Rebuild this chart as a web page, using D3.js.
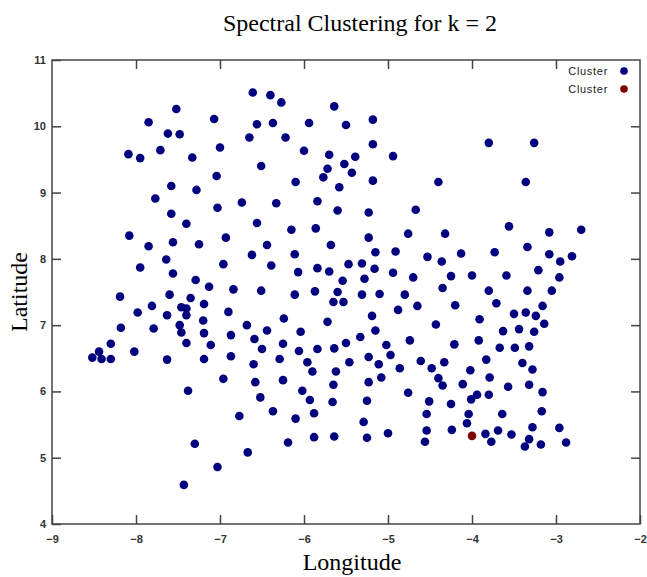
<!DOCTYPE html>
<html>
<head>
<meta charset="utf-8">
<script src="https://d3js.org/d3.v7.min.js"></script>
<style>
  body { margin: 0; background: #fff; }
  svg { display: block; }
</style>
</head>
<body>
<svg id="chart"></svg>
<script>
// cluster 1 (blue) - longitude / latitude pairs
const blueLon = [
  -6.61,-7.52,-7.85,-7.07,-6.56,-7.62,-7.48,-6.65,-8.09,-7.95,-7.71,-7.00,-7.33,-6.51,-7.04,-7.58,-7.28,-7.77,-6.74,-7.03,-7.58,
  -6.40,-6.27,-5.64,-6.37,-5.94,-5.50,-5.18,-6.22,-6.00,-5.70,-5.39,-5.18,-4.94,-5.72,-5.52,-5.43,-5.77,-6.10,-5.58,-5.18,-4.40,-6.33,-5.84,-5.60,-5.23,-4.67,
  -3.80,-3.26,-3.36,
  -7.40,-8.08,-7.85,-7.56,-7.25,-6.93,-6.62,-7.64,-7.95,-7.56,-6.96,-7.29,-7.13,-6.84,-8.19,-7.60,-7.35,-7.81,-7.46,-7.40,
  -7.19,-7.98,-7.63,-7.40,-6.90,-7.20,-7.48,-8.18,-7.79,-7.46,-7.19,-6.87,-8.30,-7.40,-7.11,-8.02,-8.44,-8.52,-8.41,-8.30,-7.63,-7.19,-6.87,
  -6.56,-6.15,-5.86,-5.23,-4.76,-6.44,-5.68,-6.11,-5.15,-4.91,-4.53,-6.39,-6.07,-5.84,-5.70,-5.47,-5.31,-5.16,-4.94,-4.70,-5.28,-5.54,
  -6.51,-6.11,-5.87,-5.60,-5.31,-5.10,-4.80,-5.65,-5.53,-4.65,-4.88,-5.19,-6.24,-5.72,-6.68,-4.43,-6.44,-6.04,-5.15,-6.59,-6.25,-5.50,
  -5.33,-5.02,-4.74,-6.50,-6.06,-5.84,-5.64,-4.97,-6.60,-6.29,-5.96,-5.46,-5.23,-5.11,-4.86,-4.61,-4.48,-5.90,-5.62,
  -4.32,-3.56,-3.08,-2.70,-4.13,-3.73,-3.34,-3.08,-2.81,-2.95,-4.36,-4.25,-4.00,-3.59,-3.21,-2.96,-4.35,-3.80,-3.34,-3.05,-4.20,
  -3.71,-3.16,-3.50,-3.36,-3.24,-3.91,-3.14,-3.63,-3.44,-3.26,-4.21,-3.92,-3.67,-3.49,-3.32,-4.33,-3.83,-3.40,-4.02,-3.28,
  -6.96,-7.38,-6.77,-7.30,-7.03,-7.43,
  -6.58,-6.25,-5.65,-6.02,-5.23,-5.08,-4.40,-4.35,-6.52,-5.93,-5.66,-5.25,-4.76,-4.51,-6.37,-6.10,-5.88,-5.29,-4.54,-4.54,-5.00,
  -5.88,-5.64,-5.25,-4.56,-6.19,-6.67,
  -3.79,-4.11,-3.57,-3.32,-3.16,-3.94,-4.01,-3.80,-4.25,-4.04,-3.64,-3.17,-4.06,-4.24,-3.84,-3.69,-3.77,-3.53,-3.28,-2.96,-3.32,
  -3.37,-3.18,-2.88
];
const blueLat = [
  10.51,10.26,10.06,10.11,10.03,9.89,9.88,9.83,9.58,9.52,9.64,9.68,9.53,9.40,9.25,9.10,9.04,8.91,8.85,8.77,8.68,
  10.47,10.36,10.30,10.05,10.05,10.02,10.10,9.83,9.63,9.57,9.54,9.73,9.55,9.36,9.43,9.30,9.23,9.16,9.08,9.18,9.16,8.84,8.87,8.73,8.70,8.74,
  9.75,9.75,9.16,
  8.53,8.35,8.19,8.25,8.22,8.32,8.06,7.99,7.87,7.78,7.92,7.68,7.58,7.54,7.43,7.46,7.41,7.29,7.27,7.25,
  7.32,7.19,7.15,7.15,7.20,7.07,7.00,6.96,6.95,6.89,6.88,6.85,6.72,6.73,6.70,6.60,6.60,6.51,6.49,6.49,6.48,6.49,6.53,
  8.54,8.44,8.46,8.32,8.38,8.21,8.21,8.07,8.10,8.11,8.03,7.90,7.80,7.86,7.81,7.92,7.93,7.85,7.79,7.72,7.70,7.67,
  7.52,7.46,7.51,7.50,7.46,7.47,7.46,7.35,7.35,7.29,7.23,7.14,7.10,7.05,7.00,7.01,6.92,6.90,6.92,6.79,6.72,6.73,
  6.82,6.70,6.77,6.64,6.61,6.64,6.65,6.55,6.41,6.49,6.44,6.44,6.52,6.41,6.35,6.46,6.35,6.30,6.30,
  8.38,8.49,8.40,8.44,8.08,8.10,8.18,8.07,8.04,7.96,7.96,7.74,7.75,7.75,7.83,7.72,7.56,7.52,7.52,7.52,7.30,
  7.33,7.29,7.17,7.19,7.14,7.09,7.02,6.91,6.94,6.90,6.71,6.77,6.66,6.66,6.68,6.44,6.48,6.43,6.32,6.33,
  6.19,6.01,5.63,5.21,4.86,4.59,
  6.14,6.17,6.10,6.01,6.14,6.21,6.20,6.09,5.91,5.87,5.84,5.86,5.98,5.85,5.70,5.59,5.67,5.54,5.66,5.41,5.37,
  5.31,5.32,5.30,5.24,5.23,5.08,
  6.21,6.11,6.07,6.10,5.99,5.95,5.88,5.95,5.81,5.66,5.66,5.70,5.52,5.42,5.36,5.41,5.24,5.35,5.46,5.45,5.28,
  5.17,5.20,5.23
];
// cluster 2 (red)
const redLon = [-4.00];
const redLat = [5.33];

const legendLabels = ['Cluster', 'Cluster'];
const legendColors = ['#00007f', '#7f0000'];
const xTicks = [-9, -8, -7, -6, -5, -4, -3, -2];
const yTicks = [4, 5, 6, 7, 8, 9, 10, 11];

const W = 647, H = 577;
const plot = {l: 52, r: 640, t: 60, b: 524};

const svg = d3.select('svg#chart')
    .attr('width', W)
    .attr('height', H);

const x = d3.scaleLinear().domain([-9, -2]).range([plot.l, plot.r]);
const y = d3.scaleLinear().domain([4, 11]).range([plot.b, plot.t]);

const tickLen = 9;
const axisColor = '#444';

// axes with inward ticks on all four sides
function styleAxis(g) {
    g.select('.domain').remove();
    g.selectAll('.tick line').attr('stroke', axisColor).attr('stroke-width', 1.5);
    g.selectAll('.tick text')
        .attr('fill', '#333')
        .style('font-family', 'Arial, "Liberation Sans", sans-serif')
        .style('font-size', '11px')
        .style('font-weight', 'bold');
}

svg.append('g')
    .attr('transform', `translate(0, ${plot.b})`)
    .call(d3.axisBottom(x).tickValues(xTicks).tickSize(-tickLen).tickPadding(11).tickFormat(d3.format('d')))
    .call(styleAxis);

svg.append('g')
    .attr('transform', `translate(0, ${plot.t})`)
    .call(d3.axisTop(x).tickValues(xTicks.slice(1, -1)).tickSize(-tickLen).tickFormat(''))
    .call(styleAxis);

svg.append('g')
    .attr('transform', `translate(${plot.l}, 0)`)
    .call(d3.axisLeft(y).tickValues(yTicks).tickSize(-tickLen).tickPadding(6).tickFormat(d3.format('d')))
    .call(styleAxis);

svg.append('g')
    .attr('transform', `translate(${plot.r}, 0)`)
    .call(d3.axisRight(y).tickValues(yTicks.slice(1, -1)).tickSize(-tickLen).tickFormat(''))
    .call(styleAxis);

// frame
svg.append('rect')
    .attr('x', plot.l)
    .attr('y', plot.t)
    .attr('width', plot.r - plot.l)
    .attr('height', plot.b - plot.t)
    .attr('fill', 'none')
    .attr('stroke', axisColor)
    .attr('stroke-width', 1.5);

// points
const blue = blueLon.map((d, i) => ({lon: d, lat: blueLat[i]}));
const red = redLon.map((d, i) => ({lon: d, lat: redLat[i]}));

svg.append('g')
    .selectAll('circle')
    .data(blue)
    .join('circle')
    .attr('cx', d => x(d.lon))
    .attr('cy', d => y(d.lat))
    .attr('r', 4.3)
    .attr('fill', legendColors[0]);

svg.append('g')
    .selectAll('circle')
    .data(red)
    .join('circle')
    .attr('cx', d => x(d.lon))
    .attr('cy', d => y(d.lat))
    .attr('r', 4.3)
    .attr('fill', legendColors[1]);

// legend
const legend = svg.append('g')
    .selectAll('g')
    .data(legendLabels)
    .join('g')
    .attr('transform', (d, i) => `translate(0, ${71 + i * 18})`);

legend.append('text')
    .attr('x', 608)
    .attr('y', 4)
    .attr('text-anchor', 'end')
    .attr('fill', '#222')
    .style('font-family', 'Arial, "Liberation Sans", sans-serif')
    .style('font-size', '11px')
    .style('letter-spacing', '0.7px')
    .text(d => d);

legend.append('circle')
    .attr('cx', 624)
    .attr('cy', 0)
    .attr('r', 3.8)
    .attr('fill', (d, i) => legendColors[i]);

// titles
const serif = '"Times New Roman", "Liberation Serif", serif';

svg.append('text')
    .attr('x', 360)
    .attr('y', 31)
    .attr('text-anchor', 'middle')
    .style('font-family', serif)
    .style('font-size', '24px')
    .text('Spectral Clustering for k = 2');

svg.append('text')
    .attr('x', (plot.l + plot.r) / 2 + 6)
    .attr('y', 570)
    .attr('text-anchor', 'middle')
    .style('font-family', serif)
    .style('font-size', '24px')
    .text('Longitude');

svg.append('text')
    .attr('transform', `translate(27, ${(plot.t + plot.b) / 2}) rotate(-90)`)
    .attr('text-anchor', 'middle')
    .style('font-family', serif)
    .style('font-size', '24px')
    .text('Latitude');
</script>
</body>
</html>
